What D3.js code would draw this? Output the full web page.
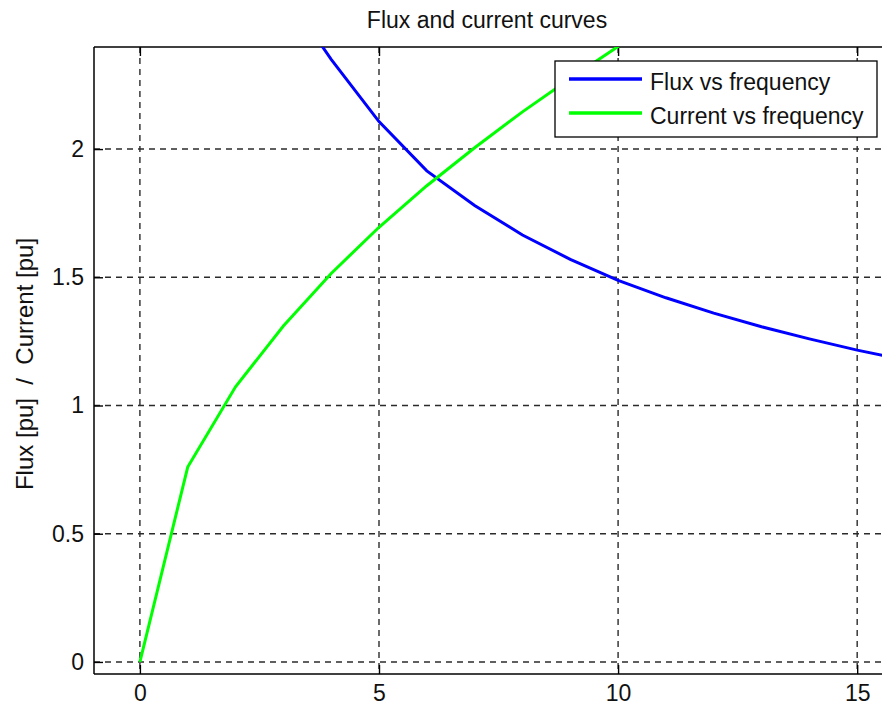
<!DOCTYPE html>
<html><head><meta charset="utf-8">
<script src="https://cdn.jsdelivr.net/npm/d3@7"></script>
<style>
body{margin:0;background:#fff}
svg{display:block}
text{font-family:"Liberation Sans",Arial,sans-serif;fill:#111}
</style>
</head><body>
<svg id="c" width="882" height="709"></svg>
<script>
const chartTitle = "Flux and current curves";
const yLabel = "Flux [pu]  /  Current [pu]";
const seriesNames = ["Flux vs frequency", "Current vs frequency"];
const seriesColors = ["#0000ff", "#00ff00"];
const fluxFreq = [1,2,3,4,5,6,7,8,9,10,11,12,13,14,15,16];
const fluxValues = [4.71,3.33,2.62,2.35,2.107,1.915,1.78,1.665,1.57,1.488,1.42,1.36,1.307,1.26,1.216,1.178];
const currentFreq = [0,1,2,3,4,5,6,7,8,9,10,11,12,13,14,15,16];
const currentValues = [0,0.76,1.073,1.31,1.515,1.695,1.857,2.005,2.145,2.275,2.40,2.52,2.63,2.74,2.84,2.94,3.04];
const xTicks = [0,5,10,15];
const yTicks = [0,0.5,1,1.5,2];

const svg = d3.select("#c");
const L = 94, T = 47, B = 674, R = 905;
const x = d3.scaleLinear().domain([-0.96, 16]).range([L, R]);
const y = d3.scaleLinear().domain([-0.047, 2.398]).range([B, T]);
const FS = 23;

svg.append("defs").append("clipPath").attr("id","clip")
  .append("rect").attr("x",L).attr("y",T).attr("width",R-L).attr("height",B-T);

// grid
const grid = svg.append("g").attr("stroke","#2b2b2b").attr("stroke-width",1.4).attr("stroke-dasharray","6,5");
grid.selectAll(".gx").data(xTicks).join("line")
  .attr("x1",d=>x(d)).attr("x2",d=>x(d)).attr("y1",T).attr("y2",B);
grid.selectAll(".gy").data(yTicks).join("line")
  .attr("x1",L).attr("x2",R).attr("y1",d=>y(d)).attr("y2",d=>y(d));

// axes
const TK = 9;
const axB = svg.append("g").attr("transform",`translate(0,${B})`)
  .call(d3.axisBottom(x).tickValues(xTicks).tickSizeInner(-TK).tickSizeOuter(0).tickPadding(11).tickFormat(d3.format("")));
const axT = svg.append("g").attr("transform",`translate(0,${T})`)
  .call(d3.axisTop(x).tickValues(xTicks).tickSizeInner(-TK).tickSizeOuter(0).tickFormat(""));
const axL = svg.append("g").attr("transform",`translate(${L},0)`)
  .call(d3.axisLeft(y).tickValues(yTicks).tickSizeInner(-TK).tickSizeOuter(0).tickPadding(10).tickFormat(d3.format("")));
[axB,axT,axL].forEach(a=>{
  a.select(".domain").remove();
  a.selectAll(".tick line").attr("stroke","#000").attr("stroke-width",1.4);
  a.selectAll(".tick text").attr("font-size",FS).attr("fill","#111").style("font-family","'Liberation Sans',Arial,sans-serif");
});

// frame
const frame = svg.append("g").attr("stroke","#000").attr("stroke-width",1.5);
frame.append("line").attr("x1",L).attr("x2",L).attr("y1",T).attr("y2",B);
frame.append("line").attr("x1",L).attr("x2",R).attr("y1",T).attr("y2",T);
frame.append("line").attr("x1",L).attr("x2",R).attr("y1",B).attr("y2",B);

// data lines
const line = d3.line().x(d=>x(d[0])).y(d=>y(d[1]));
const plot = svg.append("g").attr("clip-path","url(#clip)");
plot.append("path").datum(fluxFreq.map((f,i)=>[f,fluxValues[i]]))
  .attr("d",line).attr("fill","none").attr("stroke",seriesColors[0]).attr("stroke-width",3);
plot.append("path").datum(currentFreq.map((f,i)=>[f,currentValues[i]]))
  .attr("d",line).attr("fill","none").attr("stroke",seriesColors[1]).attr("stroke-width",3);

// legend
const lg = svg.append("g");
lg.append("rect").attr("x",555).attr("y",61).attr("width",322).attr("height",76)
  .attr("fill","#fff").attr("stroke","#000").attr("stroke-width",1.3);
seriesNames.forEach((n,i)=>{
  const yy = 79 + i*34;
  lg.append("line").attr("x1",569).attr("x2",642).attr("y1",yy).attr("y2",yy)
    .attr("stroke",seriesColors[i]).attr("stroke-width",3.5);
  lg.append("text").attr("x",650).attr("y",yy+11).attr("font-size",FS).text(n);
});

// title
svg.append("text").attr("x",487).attr("y",28).attr("text-anchor","middle").attr("font-size",FS).text(chartTitle);

// y label
svg.append("text").attr("transform","translate(33,364) rotate(-90)").attr("text-anchor","middle")
  .attr("font-size",24).style("white-space","pre").text(yLabel);
</script>
</body></html>
